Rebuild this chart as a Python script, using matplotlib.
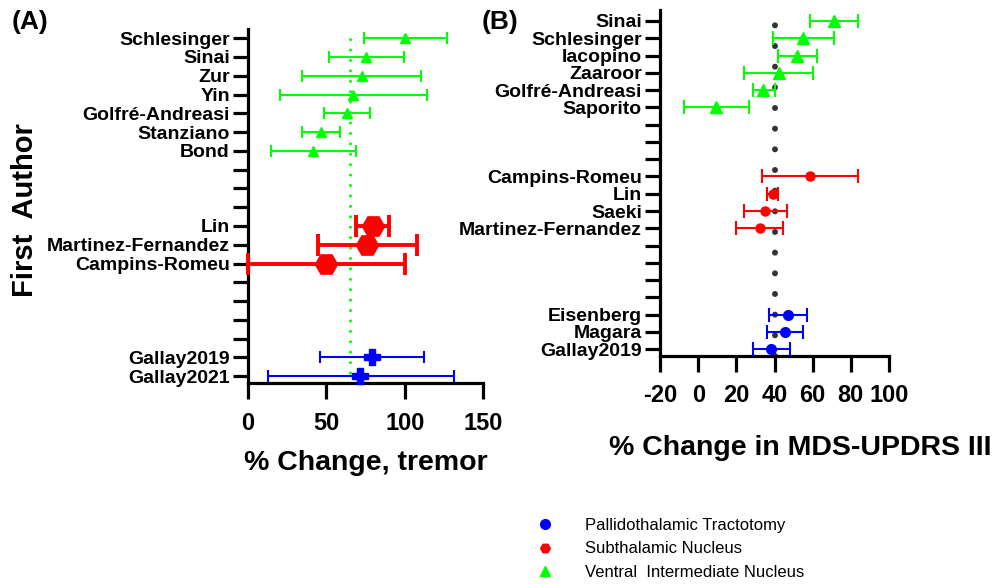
import matplotlib.pyplot as plt
from matplotlib.lines import Line2D
import numpy as np

plt.rcParams['font.family'] = ['Liberation Sans', 'DejaVu Sans']

# ---- panel A: % change, tremor ----
rows_a = ['Schlesinger', 'Sinai', 'Zur', 'Yin', 'Golfré-Andreasi', 'Stanziano', 'Bond',
          '', '', '',
          'Lin', 'Martinez-Fernandez', 'Campins-Romeu',
          '', '', '', '',
          'Gallay2019', 'Gallay2021']

vim_a_names = ['Schlesinger', 'Sinai', 'Zur', 'Yin', 'Golfré-Andreasi', 'Stanziano', 'Bond']
vim_a_mean = [100, 75.5, 72.5, 67, 63, 46.5, 41.5]
vim_a_low = [74, 51.5, 34.5, 20.5, 48.5, 34.5, 14.5]
vim_a_high = [127, 99.5, 110.5, 114, 78, 58.5, 69]

stn_a_names = ['Lin', 'Martinez-Fernandez', 'Campins-Romeu']
stn_a_mean = [80, 76, 50]
stn_a_low = [69, 44.5, 0]
stn_a_high = [90, 108, 100.5]

pt_a_names = ['Gallay2019', 'Gallay2021']
pt_a_mean = [79, 71.5]
pt_a_low = [46, 12.5]
pt_a_high = [112, 131.5]

ref_a = 65

# ---- panel B: % change in MDS-UPDRS III ----
rows_b = ['Sinai', 'Schlesinger', 'Iacopino', 'Zaaroor', 'Golfré-Andreasi', 'Saporito',
          '', '', '',
          'Campins-Romeu', 'Lin', 'Saeki', 'Martinez-Fernandez',
          '', '', '', '',
          'Eisenberg', 'Magara', 'Gallay2019']

vim_b_names = ['Sinai', 'Schlesinger', 'Iacopino', 'Zaaroor', 'Golfré-Andreasi', 'Saporito']
vim_b_mean = [71, 55, 52, 42.5, 34, 9.5]
vim_b_low = [58.5, 39, 42, 24, 28.5, -7.5]
vim_b_high = [84, 71, 62, 60, 40, 26.5]

stn_b_names = ['Campins-Romeu', 'Lin', 'Saeki', 'Martinez-Fernandez']
stn_b_mean = [58.5, 39, 35, 32.5]
stn_b_low = [33.5, 36, 24, 20]
stn_b_high = [83.5, 42, 46.5, 44.5]

pt_b_names = ['Eisenberg', 'Magara', 'Gallay2019']
pt_b_mean = [47, 45.5, 38]
pt_b_low = [37, 36, 28.5]
pt_b_high = [57, 55, 48]

ref_b = 40

GREEN = '#00ff00'
RED = '#ff0000'
BLUE = '#0000ff'


def draw_group(ax, rows, names, mean, low, high, color, marker, ms, lw, cap):
    y = [rows.index(n) for n in names]
    mean = np.array(mean, dtype=float)
    err = [mean - np.array(low), np.array(high) - mean]
    ax.errorbar(mean, y, xerr=err, fmt=marker, color=color, ms=ms,
                elinewidth=lw, capsize=cap, capthick=lw, clip_on=False, zorder=3)


def style_axes(ax, rows, xticks):
    ax.set_yticks(range(len(rows)))
    ax.set_yticklabels(rows, fontsize=14, fontweight='bold')
    ax.set_xticks(xticks)
    ax.set_xticklabels([str(t) for t in xticks], fontsize=17, fontweight='bold')
    ax.set_xlim(xticks[0], xticks[-1])
    for s in ['top', 'right']:
        ax.spines[s].set_visible(False)
    for s in ['left', 'bottom']:
        ax.spines[s].set_linewidth(2.3)
    ax.tick_params(axis='y', length=11, width=2.3, pad=2)
    ax.tick_params(axis='x', length=11.5, width=2.3, pad=9)


fig = plt.figure(figsize=(9.96, 5.84), dpi=100)

# panel A
ax1 = fig.add_axes([0.249, 0.344, 0.236, 0.606])
style_axes(ax1, rows_a, [0, 50, 100, 150])
ax1.set_ylim(len(rows_a) - 1 + 0.37, -0.48)
ax1.axvline(ref_a, color=GREEN, lw=2.2, linestyle=(0, (0.01, 3.4)),
            dash_capstyle='round', zorder=1)
draw_group(ax1, rows_a, vim_a_names, vim_a_mean, vim_a_low, vim_a_high, GREEN, '^', 7, 1.5, 4.5)
draw_group(ax1, rows_a, stn_a_names, stn_a_mean, stn_a_low, stn_a_high, RED, 'H', 16, 2.8, 8)
draw_group(ax1, rows_a, pt_a_names, pt_a_mean, pt_a_low, pt_a_high, BLUE, 'P', 11, 1.5, 4.5)
ax1.set_xlabel('% Change, tremor', fontsize=20.5, fontweight='bold')
ax1.xaxis.set_label_coords(0.5, -0.19)
ax1.xaxis.label.set_va('top')
ax1.set_ylabel('First  Author', fontsize=21, fontweight='bold')
ax1.yaxis.set_label_coords(-0.89, 0.49)

# panel B
ax2 = fig.add_axes([0.6627, 0.3904, 0.2299, 0.5926])
style_axes(ax2, rows_b, [-20, 0, 20, 40, 60, 80, 100])
ax2.set_ylim(len(rows_b) - 1 + 0.39, -0.64)
ax2.axvline(ref_b, color='#333333', lw=4.3, linestyle=(0, (0.01, 3.45)),
            dash_capstyle='round', zorder=1)
draw_group(ax2, rows_b, vim_b_names, vim_b_mean, vim_b_low, vim_b_high, GREEN, '^', 8, 1.5, 5)
draw_group(ax2, rows_b, stn_b_names, stn_b_mean, stn_b_low, stn_b_high, RED, 'o', 6.5, 1.5, 5)
draw_group(ax2, rows_b, pt_b_names, pt_b_mean, pt_b_low, pt_b_high, BLUE, 'o', 7, 1.5, 5)
ax2.set_xlabel('% Change in MDS-UPDRS III', fontsize=20.5, fontweight='bold')
ax2.xaxis.set_label_coords(0.611, -0.2285)
ax2.xaxis.label.set_va('top')

fig.text(0.012, 0.962, '(A)', fontsize=19, fontweight='bold', va='center')
fig.text(0.484, 0.962, '(B)', fontsize=19, fontweight='bold', va='center')

handles = [
    Line2D([], [], linestyle='none', marker='o', color=BLUE, ms=7),
    Line2D([], [], linestyle='none', marker='H', color=RED, ms=7),
    Line2D([], [], linestyle='none', marker='^', color=GREEN, ms=7),
]
labels = ['Pallidothalamic Tractotomy', 'Subthalamic Nucleus', 'Ventral  Intermediate Nucleus']
fig.legend(handles, labels, loc='upper left', bbox_to_anchor=(0.5389, 0.113),
           frameon=False, fontsize=12, handlelength=1.0, handletextpad=1.9,
           labelspacing=0.5, borderpad=0, borderaxespad=0)

fig.savefig('out.png', dpi=100)
